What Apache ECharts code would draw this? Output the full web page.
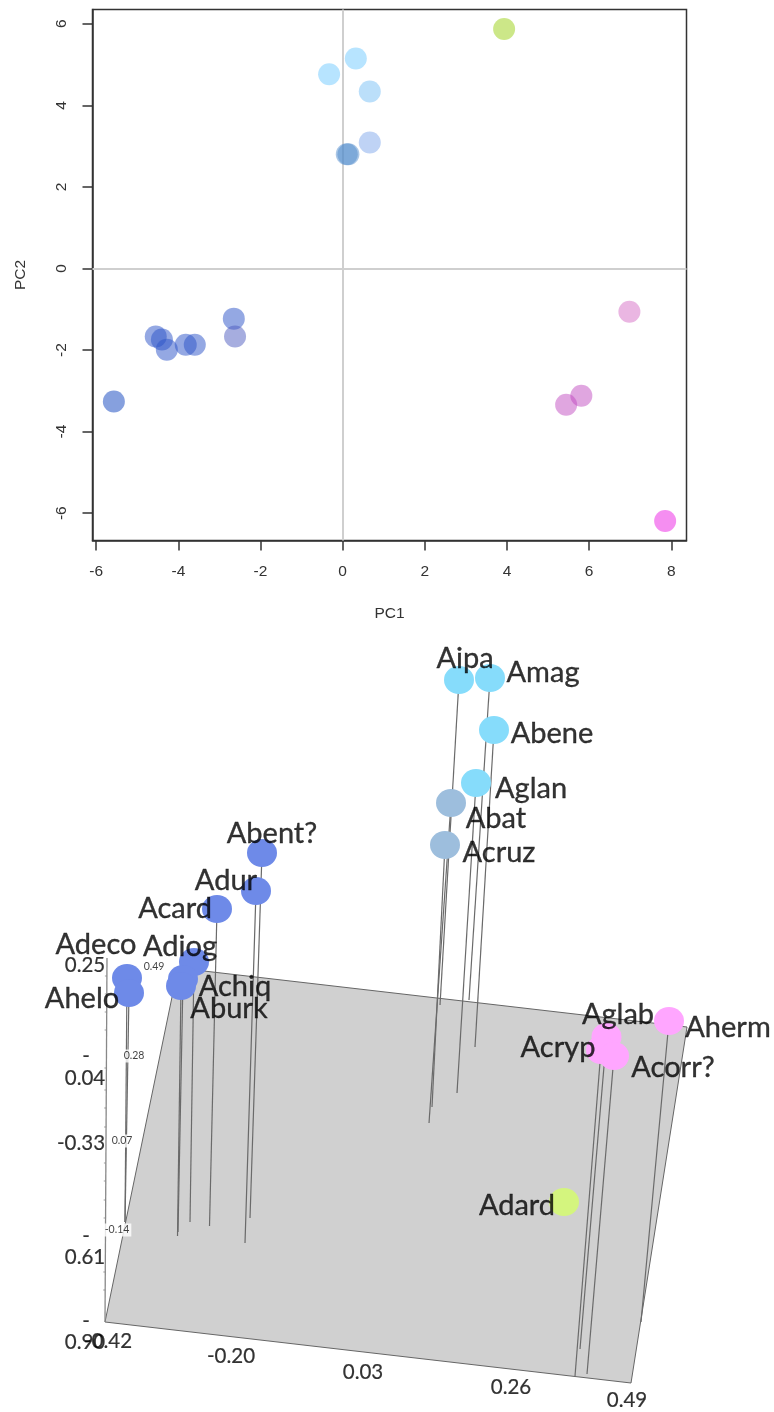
<!DOCTYPE html>
<html><head><meta charset="utf-8">
<style>html,body{margin:0;padding:0;background:#fff}#c{width:774px;height:1412px}</style>
<script src="https://cdn.jsdelivr.net/npm/echarts@6/dist/echarts.min.js"></script>
</head><body><div id="c"></div>
<script>
// --- PCA panel data
const pc1 = [3.93,0.32,-0.33,0.66,0.66,0.10,0.14,-2.65,-2.62,-4.55,-4.40,-4.28,-3.82,-3.60,-5.57,6.98,5.81,5.44,7.85];
const pc2 = [5.87,5.15,4.76,4.34,3.09,2.80,2.80,-1.23,-1.67,-1.67,-1.74,-1.99,-1.87,-1.87,-3.26,-1.06,-3.12,-3.34,-6.19];
const pcaGroup = ['g','c','c','c2','c3','s','s','b','b2','b','b','b','b','b','b3','p','p2','p2','p3'];
const pcaTicksX = [-6,-4,-2,0,2,4,6,8];
const pcaTicksY = [-6,-4,-2,0,2,4,6];
// --- 3D panel data (projected plane coordinates)
const taxa  = ['Aipa','Amag','Abene','Aglan','Abat','Acruz','Abent?','Adur','Acard','Adiog','Adeco','Ahelo','Achiq','Aburk','Aglab','Acryp','Acorr?','Aherm','Adard'];
const projX = [459,490,494,476,451,445,262,256,217,194,127,129,183,181,606.5,601,614,669,564];
const projY = [680,678,730,783,803,845,853,891,909,962,978,993,979,986,1037,1050,1056,1021,1202];
const baseX = [440,469,475,457,429,432,250,245,209.5,190,125,125,178,177.5,580,575,587,641,null];
const baseY = [1005,1000,1047,1093,1123,1107,1218,1243,1226,1222,1222,1222,1232,1236,1349,1376,1374,1322,null];
const taxonGroup = ['c','c','c','c','s','s','b','b','b','b','b','b','b','b','p','p','p','p','g'];
const labelX = [465,543,552,531,496,499,272,226,175,180,96,82,235,229,618,558,673,728,517];
const labelY = [659,673,734,789,819,853,834,881,909,947,945,999,987,1009,1015,1048,1068,1028,1206];
const planeX = [105,631,687,178];
const planeY = [1322,1383,1027,968];
const bigTicks  = ['-0.42','-0.20','0.03','0.26','0.49','0.25','0.04','-0.33','0.61','0.90','-','-','-'];
const bigTickX  = [108,231,363,511,627,85,85,81,85,85,86,86,86];
const bigTickY  = [1341,1356,1372,1387,1400,965,1078,1143,1257,1342,1056,1236,1321];
const smallTicks = ['0.49','0.28','0.07','-0.14'];
const smallTickX = [154,134,122,117];
const smallTickY = [967,1056,1141,1230];
const wallTickY = [976,994,1012,1030,1068,1090,1108,1127,1163,1181,1200,1218,1272,1290];

const pcaColors = {g:'rgba(180,220,80,.85)',c:'rgba(130,208,255,.72)',c2:'rgba(130,195,245,.68)',c3:'rgba(125,165,235,.62)',s:'rgba(80,140,205,.62)',
  b:'rgba(45,85,200,.64)',b2:'rgba(75,90,190,.62)',b3:'rgba(50,95,200,.74)',p:'rgba(215,115,200,.65)',p2:'rgba(190,70,190,.6)',p3:'rgba(240,90,235,.85)'};
const taxonColors = {c:'#86dcfb',s:'#9dbedd',b:'#6e8ae8',p:'#ffa6ff',g:'#d4f57e'};
const font3d = 'Lato';
const textBold = {textBorderColor:'#000',textBorderWidth:.35};

const stemSeries = taxa.map((t,i)=>baseX[i]==null?null:({
  type:'line',xAxisIndex:1,yAxisIndex:1,symbol:'none',silent:true,z:3,
  lineStyle:{color:'#6a6a6a',width:1.2},
  data:[[projX[i],projY[i]],[baseX[i],baseY[i]]]
})).filter(Boolean);

const option = {
  animation:false,backgroundColor:'#fff',
  grid:[
    {left:92.5,top:9.5,width:594,height:531,show:true,borderColor:'#333',borderWidth:1.5,backgroundColor:'#fff'},
    {left:0,top:640,width:774,height:772,show:false}
  ],
  xAxis:[
    {type:'value',gridIndex:0,min:-6.09,max:8.37,name:'PC1',nameLocation:'middle',nameGap:65,
     nameTextStyle:{fontFamily:'Liberation Sans',fontSize:15.5,color:'#333'},splitLine:{show:false},
     axisLine:{show:true,onZero:false,lineStyle:{color:'#333',width:1.5}},
     axisTick:{show:true,length:10,customValues:pcaTicksX,lineStyle:{color:'#333',width:1.5}},
     axisLabel:{customValues:pcaTicksX,margin:23,fontFamily:'Liberation Sans',fontSize:15.5,color:'#333',showMinLabel:true,showMaxLabel:true}},
    {type:'value',gridIndex:1,min:0,max:774,show:false}
  ],
  yAxis:[
    {type:'value',gridIndex:0,min:-6.67,max:6.35,name:'PC2',nameLocation:'middle',nameGap:64,nameRotate:90,
     nameTextStyle:{fontFamily:'Liberation Sans',fontSize:15.5,color:'#333'},splitLine:{show:false},
     axisLine:{show:true,onZero:false,lineStyle:{color:'#333',width:1.5}},
     axisTick:{show:true,length:10,customValues:pcaTicksY,lineStyle:{color:'#333',width:1.5}},
     axisLabel:{customValues:pcaTicksY,rotate:90,margin:23,fontFamily:'Liberation Sans',fontSize:15.5,color:'#333'}},
    {type:'value',gridIndex:1,min:640,max:1412,inverse:true,show:false}
  ],
  series:[
    {type:'scatter',xAxisIndex:0,yAxisIndex:0,symbolSize:22,z:3,
     data:pc1.map((x,i)=>({value:[x,pc2[i]],itemStyle:{color:pcaColors[pcaGroup[i]]}})),
     markLine:{silent:true,symbol:'none',z:2,label:{show:false},lineStyle:{color:'#cfcfcf',width:2,type:'solid'},data:[{xAxis:0},{yAxis:0}]}},
    {type:'custom',xAxisIndex:1,yAxisIndex:1,z:1,silent:true,
     renderItem:(p,api)=>({type:'polygon',shape:{points:planeX.map((x,i)=>api.coord([x,planeY[i]]))},style:{fill:'#d0d0d0',stroke:'#666',lineWidth:1}}),
     data:[[0,0]],encode:{x:0,y:1}},
    {type:'line',xAxisIndex:1,yAxisIndex:1,symbol:'none',silent:true,z:2,lineStyle:{color:'#888',width:1.3},
     data:[[107,958],[105,1322]]},
    {type:'scatter',xAxisIndex:1,yAxisIndex:1,silent:true,z:2,symbol:'rect',symbolSize:[2,1],itemStyle:{color:'#888'},
     data:wallTickY.map(y=>[105+(1322-y)*2/364-1,y])},
    ...stemSeries,
    {type:'scatter',xAxisIndex:1,yAxisIndex:1,symbolSize:[30,28],z:4,
     data:taxa.map((t,i)=>({value:[projX[i],projY[i]],itemStyle:{color:taxonColors[taxonGroup[i]],opacity:1}}))},
    {type:'scatter',xAxisIndex:1,yAxisIndex:1,symbolSize:0,z:5,silent:true,
     data:taxa.map((t,i)=>({value:[labelX[i],labelY[i]],name:t})),
     label:{show:true,position:'inside',formatter:p=>p.name,fontFamily:font3d,fontSize:29,color:'#000',...textBold}},
    {type:'scatter',xAxisIndex:1,yAxisIndex:1,symbolSize:0,z:5,silent:true,
     data:bigTicks.map((t,i)=>({value:[bigTickX[i],bigTickY[i]],name:t})),
     label:{show:true,position:'inside',formatter:p=>p.name,fontFamily:font3d,fontSize:20.5,color:'#000',textBorderColor:'#000',textBorderWidth:.2}},
    {type:'scatter',xAxisIndex:1,yAxisIndex:1,symbolSize:0,z:5,silent:true,
     data:smallTicks.map((t,i)=>({value:[smallTickX[i],smallTickY[i]],name:t})),
     label:{show:true,position:'inside',formatter:p=>p.name,fontFamily:font3d,fontSize:10.5,color:'#111',backgroundColor:'#fff',padding:[1,2]}}
  ]
};
const chart = echarts.init(document.getElementById('c'),null,{renderer:'canvas'});
chart.setOption(option);
</script></body></html>
